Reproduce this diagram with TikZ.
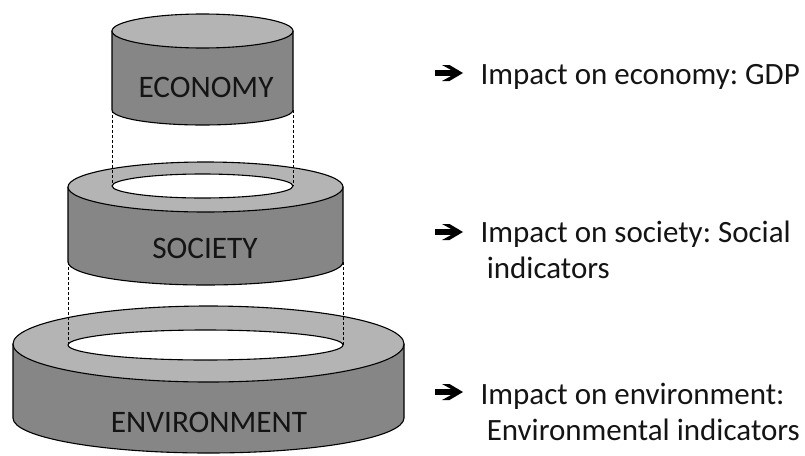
\documentclass[tikz,border=0pt]{standalone}
\usepackage{fontspec}
\setmainfont{Carlito}
\frenchspacing
\begin{document}
\begin{tikzpicture}[x=1pt,y=-1pt,
  line width=1.1pt, line join=round,
  side/.style={draw=black, fill=bodygray},
  lid/.style={draw=black, fill=lidgray},
  hole/.style={draw=black, fill=white},
  guide/.style={draw=black, line width=1pt, dash pattern=on 3pt off 2pt},
  tag/.style={font=\fontsize{31.3}{34}\selectfont, inner sep=0pt, text=textgray},
  note/.style={font=\fontsize{31}{36}\selectfont, inner sep=0pt, align=left, text=textgray},
  bularrow/.pic={
    \fill[black] (0,-2.8) -- (16.5,-2.8) -- (7,-8) -- (14.5,-8) -- (28,0)
      -- (14.5,8) -- (7,8) -- (16.5,2.8) -- (0,2.8) -- cycle;
  },
]
\definecolor{bodygray}{RGB}{134,134,134}
\definecolor{lidgray}{RGB}{180,180,180}
\definecolor{textgray}{RGB}{20,20,20}
\useasboundingbox (0,0) rectangle (805,455);

% environment ring
\path[side] (13,344) -- (13,418) arc[start angle=180, end angle=0, x radius=195.5, y radius=35] -- (404,344) -- cycle;
\path[lid] (208.5,344) ellipse[x radius=195.5, y radius=38];
\path[hole] (205.5,345) ellipse[x radius=137.5, y radius=15];

% society ring
\path[side] (68,187) -- (68,262) arc[start angle=180, end angle=0, x radius=137.5, y radius=23] -- (343,187) -- cycle;
\path[lid] (205.5,187) ellipse[x radius=137.5, y radius=25];
\path[hole] (202.5,186) ellipse[x radius=90.5, y radius=12];

% economy cylinder
\path[side] (112,31) -- (112,110) arc[start angle=180, end angle=0, x radius=90.5, y radius=15] -- (293,31) -- cycle;
\path[lid] (202.5,31) ellipse[x radius=90.5, y radius=17];

% projection guides between the levels
\coordinate (ecoL) at (112,110);
\coordinate (ecoR) at (293,110);
\coordinate (socHoleL) at (112,186);
\coordinate (socHoleR) at (293,186);
\coordinate (socL) at (68,262);
\coordinate (socR) at (343,262);
\coordinate (envHoleL) at (68,345);
\coordinate (envHoleR) at (343,345);
\draw[guide] (ecoL) -- (socHoleL);
\draw[guide] (ecoR) -- (socHoleR);
\draw[guide] (socL) -- (envHoleL);
\draw[guide] (socR) -- (envHoleR);

% level labels
\node[tag, anchor=base] (eco) at (206,97) {ECONOMY};
\node[tag, anchor=base] (soc) at (205,258) {SOCIETY};
\node[tag, anchor=base] (env) at (209,432) {ENVIRONMENT};

% impact notes with their bullet arrows
\pic at (435,73) {bularrow};
\node[note, anchor=base west] (n1) at (480,84) {Impact on economy: GDP};
\pic at (435,232) {bularrow};
\node[note, anchor=base west] (n2) at (480,278) {Impact on society: Social\\\hspace{0.2em}indicators};
\pic at (435,392) {bularrow};
\node[note, anchor=base west] (n3) at (480,440) {Impact on environment:\\\hspace{0.2em}Environmental indicators};
\end{tikzpicture}
\end{document}
